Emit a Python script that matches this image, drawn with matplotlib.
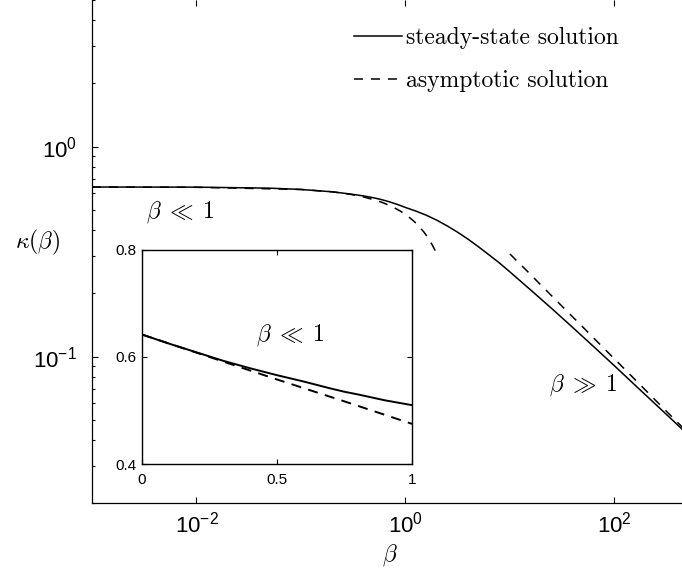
import matplotlib
matplotlib.use("Agg")
import matplotlib.pyplot as plt
from matplotlib.ticker import FixedLocator, LogLocator, NullFormatter, NullLocator

plt.rcParams["font.family"] = ["Liberation Sans", "DejaVu Sans"]

# steady-state solution
beta_ss = [0.001, 0.01, 0.05, 0.1, 0.2, 0.3, 0.4, 0.5, 0.6, 0.7, 0.85, 1.0,
           1.26, 1.585, 2.0, 2.51, 3.16, 3.98, 5.01, 6.31, 7.94, 10.0, 15.8,
           25.1, 39.8, 63.1, 100.0, 158.0, 251.0, 398.0, 500.0]
kappa_ss = [0.642, 0.641, 0.634, 0.625, 0.609, 0.594, 0.582, 0.570, 0.558,
            0.546, 0.529, 0.513, 0.493, 0.471, 0.446, 0.419, 0.391, 0.362,
            0.333, 0.305, 0.279, 0.253, 0.2075, 0.1694, 0.1377, 0.1117,
            0.0904, 0.0730, 0.0589, 0.0475, 0.0427]

# asymptotic solution, beta << 1
beta_small = [0.001, 0.01, 0.1, 0.2, 0.3, 0.4, 0.5, 0.6, 0.7, 0.8, 0.9, 1.0,
              1.1, 1.2, 1.3, 1.4, 1.5, 1.6, 1.7, 1.8, 1.95]
kappa_small = [0.642, 0.640, 0.625, 0.609, 0.592, 0.575, 0.558, 0.542, 0.525,
               0.508, 0.492, 0.475, 0.458, 0.442, 0.425, 0.408, 0.392, 0.375,
               0.358, 0.341, 0.316]

# asymptotic solution, beta >> 1
beta_large = [10, 15, 20, 30, 50, 70, 100, 150, 200, 300, 500]
kappa_large = [0.308, 0.252, 0.218, 0.178, 0.138, 0.1165, 0.0975, 0.0796,
               0.0689, 0.0562, 0.0436]

# inset, linear axes
beta_in = [0, 0.1, 0.2, 0.25, 0.3, 0.4, 0.5, 0.6, 0.7, 0.75, 0.8, 0.9, 1.0]
kappa_in = [0.642, 0.625, 0.609, 0.601, 0.593, 0.579, 0.566, 0.554, 0.541,
            0.535, 0.530, 0.519, 0.510]
beta_in_asym = [0, 0.25, 0.5, 0.75, 1.0]
kappa_in_asym = [0.642, 0.600, 0.558, 0.517, 0.475]

W, H = 682, 569
fig = plt.figure(figsize=(W / 100, H / 100), dpi=100)
ax = fig.add_axes([92 / W, (H - 503.4) / H, 595.5 / W, 503.6 / H])

lw = 1.1
dash = (5.9, 5.2)
ax.loglog(beta_ss, kappa_ss, "k-", lw=lw, label="steady-state solution")
ax.loglog(beta_small, kappa_small, "k--", dashes=dash, lw=lw,
          label="asymptotic solution")
ax.loglog(beta_large, kappa_large, "k--", dashes=dash, lw=lw)

ax.set_xlim(1e-3, 5e2)
ax.set_ylim(0.02, 5)
ax.xaxis.set_major_locator(FixedLocator([1e-2, 1, 1e2]))
ax.xaxis.set_minor_locator(NullLocator())
ax.yaxis.set_major_locator(FixedLocator([0.1, 1]))
ax.yaxis.set_minor_locator(LogLocator(base=10, subs=range(2, 10)))
ax.yaxis.set_minor_formatter(NullFormatter())
ax.tick_params(which="both", direction="in", top=True, right=True, width=0.8)
ax.tick_params(which="major", length=4.3, labelsize=16)
ax.tick_params(which="minor", length=2.4)
ax.tick_params(axis="x", pad=6)
ax.tick_params(axis="y", pad=11)
for s in ax.spines.values():
    s.set_linewidth(0.9)
ax.spines["top"].set_visible(False)

ax.set_xlabel(r"$\beta$", fontsize=17, math_fontfamily="cm", labelpad=3)
ax.set_ylabel(r"$\kappa(\beta)$", fontsize=17, math_fontfamily="cm",
              rotation=0, ha="center", va="center")
ax.yaxis.set_label_coords((37 - 92) / 595.5, (503.4 - 242) / 503.6)

ax.text(0.0070, 0.49, r"$\beta\;\ll\;1$", fontsize=17, math_fontfamily="cm",
        ha="center", va="center")
ax.text(50, 0.0733, r"$\beta\;\gg\;1$", fontsize=17, math_fontfamily="cm",
        ha="center", va="center")

ax.legend(loc="upper left", bbox_to_anchor=(354 / W, 1 - 27 / H),
          bbox_transform=fig.transFigure, frameon=False,
          prop={"family": "cmr10", "size": 17}, handlelength=2.03,
          handletextpad=0.19, labelspacing=0.9, borderpad=0, borderaxespad=0)

# inset
axi = fig.add_axes([142 / W, (H - 464) / H, 270 / W, 214 / H])
axi.plot(beta_in, kappa_in, "k-", lw=1.4)
axi.plot(beta_in_asym, kappa_in_asym, "k--", dashes=(5.2, 3.8), lw=1.4)
axi.set_xlim(0, 1)
axi.set_ylim(0.4, 0.8)
axi.set_xticks([0, 0.5, 1])
axi.set_xticklabels(["0", "0.5", "1"])
axi.set_yticks([0.4, 0.6, 0.8])
axi.set_yticklabels(["0.4", "0.6", "0.8"])
axi.tick_params(direction="in", top=True, right=True, length=3.6, width=0.8,
                labelsize=11)
axi.tick_params(axis="x", pad=6.5)
axi.tick_params(axis="y", pad=4)
for s in axi.spines.values():
    s.set_linewidth(1.0)
axi.text(0.55, 0.641, r"$\beta\;\ll\;1$", fontsize=17, math_fontfamily="cm",
         ha="center", va="center")

fig.savefig("out.png", dpi=100)
